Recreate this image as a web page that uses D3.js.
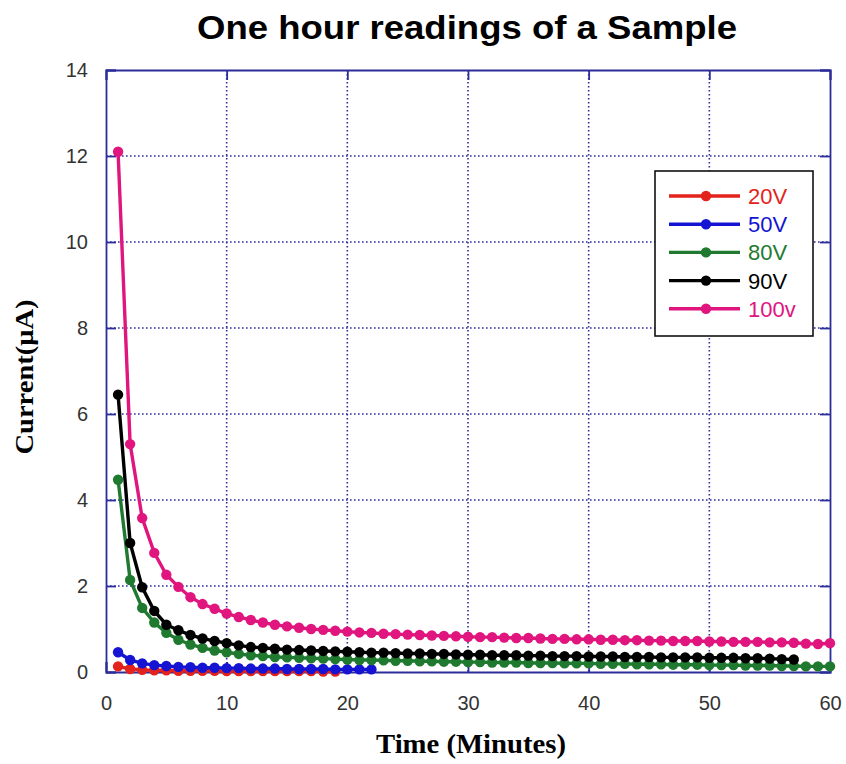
<!DOCTYPE html>
<html><head><meta charset="utf-8">
<script src="https://cdn.jsdelivr.net/npm/d3@7"></script>
<style>body{margin:0;background:#fff}svg{display:block}</style>
</head><body>
<svg id="c" width="846" height="764"></svg>
<script>
const seriesNames = ["20V","50V","80V","90V","100v"];
const seriesColors = ["#e3221c","#1414d2","#1f7a30","#000000","#e0157e"];
const v20 = [0.13,0.07,0.05,0.04,0.04,0.03,0.03,0.03,0.03,0.02,0.02,0.02,0.02,0.02,0.02,0.02,0.02,0.01,0.01];
const v50 = [0.46,0.28,0.20,0.16,0.14,0.12,0.11,0.10,0.10,0.09,0.09,0.08,0.08,0.08,0.07,0.07,0.07,0.07,0.06,0.06,0.06,0.06];
const v80 = [4.47,2.14,1.49,1.15,0.91,0.75,0.64,0.56,0.50,0.46,0.42,0.39,0.37,0.35,0.34,0.33,0.32,0.31,0.30,0.29,0.28,0.28,0.27,0.26,0.26,0.25,0.25,0.24,0.24,0.23,0.23,0.22,0.22,0.22,0.21,0.21,0.21,0.20,0.20,0.20,0.19,0.19,0.19,0.18,0.18,0.18,0.17,0.17,0.17,0.16,0.16,0.16,0.15,0.15,0.15,0.14,0.14,0.13,0.13,0.13];
const v90 = [6.45,3.0,1.97,1.42,1.10,0.97,0.86,0.78,0.72,0.67,0.62,0.58,0.56,0.54,0.52,0.51,0.50,0.49,0.48,0.47,0.46,0.45,0.45,0.44,0.43,0.43,0.42,0.42,0.41,0.40,0.40,0.39,0.39,0.39,0.38,0.38,0.37,0.37,0.37,0.36,0.36,0.36,0.35,0.35,0.35,0.34,0.34,0.34,0.34,0.33,0.33,0.33,0.32,0.32,0.31,0.30,0.29];
const v100 = [12.1,5.3,3.58,2.77,2.26,1.98,1.74,1.58,1.47,1.36,1.28,1.21,1.15,1.10,1.06,1.03,1.00,0.98,0.96,0.94,0.92,0.91,0.89,0.88,0.87,0.86,0.85,0.84,0.83,0.82,0.81,0.81,0.80,0.79,0.79,0.78,0.77,0.77,0.76,0.76,0.75,0.75,0.74,0.74,0.73,0.73,0.72,0.72,0.72,0.71,0.71,0.70,0.70,0.70,0.69,0.69,0.68,0.66,0.65,0.67];
const xTicks = [0,10,20,30,40,50,60];
const yTicks = [0,2,4,6,8,10,12,14];

const allValues = [v20,v50,v80,v90,v100];
const svg = d3.select("#c");
const L=106,R=830,T=70,B=672;
const x = d3.scaleLinear().domain([0,60]).range([L,R]);
const y = d3.scaleLinear().domain([0,14]).range([B,T]);
const navy = "#2c2c9a";
const sans = "Arial, 'Liberation Sans', sans-serif";
const serif = "'Liberation Serif','Times New Roman', serif";

// grid
const g = svg.append("g");
g.selectAll(".gx").data(xTicks.slice(1,-1)).join("line")
  .attr("x1",d=>x(d)).attr("x2",d=>x(d)).attr("y1",T).attr("y2",B)
  .attr("stroke",navy).attr("stroke-width",1.6).attr("stroke-dasharray","1.6,2.4");
g.selectAll(".gy").data(yTicks.slice(1,-1)).join("line")
  .attr("y1",d=>y(d)).attr("y2",d=>y(d)).attr("x1",L).attr("x2",R)
  .attr("stroke",navy).attr("stroke-width",1.6).attr("stroke-dasharray","1.6,2.4");

// axes
const ax = svg.append("g").attr("transform",`translate(0,${B})`)
  .call(d3.axisBottom(x).tickValues(xTicks).tickSize(-10).tickPadding(24));
const ay = svg.append("g").attr("transform",`translate(${L},0)`)
  .call(d3.axisLeft(y).tickValues(yTicks).tickSize(-10).tickPadding(18));
const axt = svg.append("g").attr("transform",`translate(0,${T})`)
  .call(d3.axisTop(x).tickValues(xTicks).tickSize(-10).tickFormat(""));
const ayr = svg.append("g").attr("transform",`translate(${R},0)`)
  .call(d3.axisRight(y).tickValues(yTicks).tickSize(-10).tickFormat(""));
[ax,ay,axt,ayr].forEach(a=>{
  a.select(".domain").attr("stroke",navy).attr("stroke-width",1.8);
  a.selectAll(".tick line").attr("stroke",navy).attr("stroke-width",1.8);
  a.selectAll(".tick text").attr("fill","#333").style("font-family",sans).style("font-size","20px");
});

// series
const line = d3.line().x((d,i)=>x(i+1)).y(d=>y(d));
allValues.forEach((vals,k)=>{
  const s = svg.append("g");
  s.append("path").attr("d",line(vals)).attr("fill","none")
    .attr("stroke",seriesColors[k]).attr("stroke-width",3.4);
  s.selectAll("circle").data(vals).join("circle")
    .attr("cx",(d,i)=>x(i+1)).attr("cy",d=>y(d)).attr("r",5.2)
    .attr("fill",seriesColors[k]);
});

// legend
const lg = svg.append("g");
lg.append("rect").attr("x",655).attr("y",171).attr("width",158).attr("height",165)
  .attr("fill","#fff").attr("stroke","#111").attr("stroke-width",1.6);
seriesNames.forEach((n,k)=>{
  const ry = 196 + k*28.2;
  lg.append("line").attr("x1",669).attr("x2",740).attr("y1",ry).attr("y2",ry)
    .attr("stroke",seriesColors[k]).attr("stroke-width",3.4);
  lg.append("circle").attr("cx",706).attr("cy",ry).attr("r",5.2).attr("fill",seriesColors[k]);
  lg.append("text").attr("x",748).attr("y",ry+8).text(n)
    .attr("fill",seriesColors[k]).style("font-family",sans).style("font-size","22px");
});

// titles
svg.append("text").attr("x",467).attr("y",39).attr("text-anchor","middle")
  .attr("textLength",540).attr("lengthAdjust","spacingAndGlyphs")
  .style("font-family",sans).style("font-weight","bold").style("font-size","34px")
  .text("One hour readings of a Sample");
svg.append("text").attr("x",471).attr("y",753).attr("text-anchor","middle")
  .attr("textLength",190).attr("lengthAdjust","spacingAndGlyphs")
  .style("font-family",serif).style("font-weight","bold").style("font-size","27px")
  .text("Time (Minutes)");
svg.append("text").attr("transform","translate(33,377) rotate(-90)").attr("text-anchor","middle")
  .attr("textLength",155).attr("lengthAdjust","spacingAndGlyphs")
  .style("font-family",serif).style("font-weight","bold").style("font-size","26px")
  .text("Current(μA)");
</script>
</body></html>
